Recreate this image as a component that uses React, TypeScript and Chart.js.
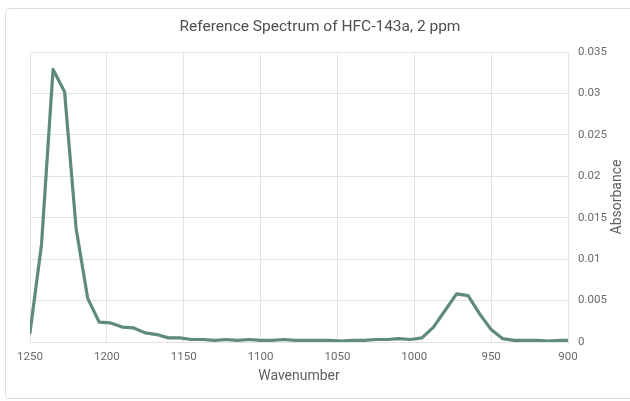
import React, { useEffect, useRef } from "react";
import { Chart, registerables } from "chart.js";

Chart.register(...registerables);

const chartTitle = "Reference Spectrum of HFC-143a, 2 ppm";
const xAxisTitle = "Wavenumber";
const yAxisTitle = "Absorbance";

const wavenumbers = [
  1250, 1242.5, 1235, 1227.5, 1220, 1212.5, 1205, 1197.5, 1190, 1182.5,
  1175, 1167.5, 1160, 1152.5, 1145, 1137.5, 1130, 1122.5, 1115, 1107.5,
  1100, 1092.5, 1085, 1077.5, 1070, 1062.5, 1055, 1047.5, 1040, 1032.5,
  1025, 1017.5, 1010, 1002.5, 995, 987.5, 980, 972.5, 965, 957.5,
  950, 942.5, 935, 927.5, 920, 912.5, 905, 900,
];

const absorbance = [
  0.0011, 0.0118, 0.0329, 0.0302, 0.0137, 0.0053, 0.0024, 0.0023, 0.0018, 0.0017,
  0.0011, 0.0009, 0.0005, 0.0005, 0.0003, 0.0003, 0.0002, 0.0003, 0.0002, 0.0003,
  0.0002, 0.0002, 0.0003, 0.0002, 0.0002, 0.0002, 0.0002, 0.0001, 0.0002, 0.0002,
  0.0003, 0.0003, 0.0004, 0.0003, 0.0005, 0.0018, 0.0038, 0.0058, 0.0056, 0.0034,
  0.0015, 0.0004, 0.0002, 0.0002, 0.0002, 0.0001, 0.0002, 0.0002,
];

const xTickValues = [1250, 1200, 1150, 1100, 1050, 1000, 950, 900];
const xTickLabels = ["1250", "1200", "1150", "1100", "1050", "1000", "950", "900"];
const yTickValues = [0, 0.005, 0.01, 0.015, 0.02, 0.025, 0.03, 0.035];
const yTickLabels = ["0", "0.005", "0.01", "0.015", "0.02", "0.025", "0.03", "0.035"];

const FONT = "Roboto, 'Noto Sans', Arial, sans-serif";
const GRID = "#e3e3e3";
const LINE = "#5e8b7b";

export default function App() {
  const ref = useRef<HTMLCanvasElement | null>(null);

  useEffect(() => {
    if (!ref.current) return;
    const yTitlePlugin = {
      id: "yTitleRotated",
      afterDraw(chart: any) {
        const { ctx, chartArea } = chart;
        ctx.save();
        ctx.translate(chart.width - 13, (chartArea.top + chartArea.bottom) / 2);
        ctx.rotate(-Math.PI / 2);
        ctx.font = `14px ${FONT}`;
        ctx.fillStyle = "#5f5f5f";
        ctx.textAlign = "center";
        ctx.textBaseline = "middle";
        ctx.fillText(yAxisTitle, 0, 0);
        ctx.restore();
      },
    };

    const chart = new Chart(ref.current, {
      type: "line",
      data: {
        datasets: [
          {
            label: yAxisTitle,
            data: wavenumbers.map((w, i) => ({ x: w, y: absorbance[i] })),
            borderColor: LINE,
            backgroundColor: LINE,
            borderWidth: 3.2,
            pointRadius: 0,
            tension: 0,
            borderJoinStyle: "round",
            borderCapStyle: "round",
          },
        ],
      },
      options: {
        animation: false,
        responsive: false,
        layout: { padding: { left: 10, right: 0, top: 0, bottom: 0 } },
        plugins: {
          legend: { display: false },
          tooltip: { enabled: false },
          title: {
            display: true,
            text: chartTitle,
            color: "#4f4f4f",
            font: { family: FONT, size: 15.5, weight: "normal" },
            padding: { top: 18.3, bottom: 15.1 },
          },
        },
        scales: {
          x: {
            type: "linear",
            reverse: true,
            min: 900,
            max: 1250,
            afterBuildTicks: (s: any) => {
              s.ticks = xTickValues.map((v) => ({ value: v }));
            },
            afterFit: (s: any) => {
              s.height = 59;
              s.paddingLeft = 30;
              s.paddingRight = 0;
            },
            ticks: {
              color: "#6a6a6a",
              font: { family: FONT, size: 11.5 },
              padding: 8,
              maxRotation: 0,
              autoSkip: false,
              callback: (v: any) => xTickLabels[xTickValues.indexOf(Number(v))] ?? String(v),
            },
            grid: { color: GRID, drawTicks: false },
            border: { color: GRID },
            title: {
              display: true,
              text: xAxisTitle,
              color: "#5f5f5f",
              font: { family: FONT, size: 14 },
              padding: { top: 0, bottom: 16.6 },
            },
          },
          y: {
            type: "linear",
            position: "right",
            min: 0,
            max: 0.035,
            afterBuildTicks: (s: any) => {
              s.ticks = yTickValues.map((v) => ({ value: v }));
            },
            afterFit: (s: any) => {
              s.width = 62;
            },
            ticks: {
              color: "#6a6a6a",
              font: { family: FONT, size: 11.5 },
              padding: 10,
              autoSkip: false,
              callback: (v: any) => yTickLabels[yTickValues.indexOf(Number(v))] ?? String(v),
            },
            grid: { color: GRID, drawTicks: false },
            border: { color: GRID },
          },
        },
      },
      plugins: [yTitlePlugin],
    } as any);

    return () => chart.destroy();
  }, []);

  return (
    <div
      style={{
        position: "absolute",
        left: 0,
        top: 0,
        width: 630,
        height: 401,
        overflow: "hidden",
        background: "#fff",
      }}
    >
      <div
        style={{
          position: "absolute",
          left: 5,
          top: 8,
          width: 640,
          height: 389,
          border: "1px solid #dedede",
          borderRadius: 4,
        }}
      />
      <canvas
        ref={ref}
        width={630}
        height={401}
        style={{ position: "absolute", left: 0, top: 0, width: 630, height: 401, display: "block" }}
      />
    </div>
  );
}
